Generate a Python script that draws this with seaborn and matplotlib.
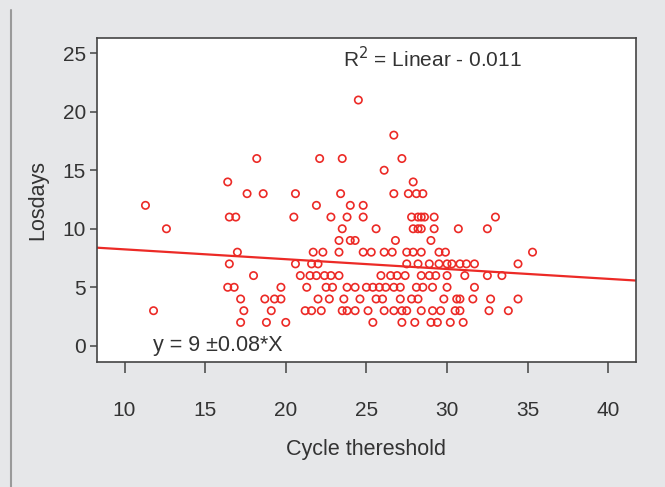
import numpy as np
import pandas as pd
import matplotlib.pyplot as plt
import seaborn as sns

# Data, one row per Losdays value
cycle_threshold = [
    24.5,
    26.7,
    18.2, 22.1, 23.5, 27.2,
    26.1,
    16.4, 27.9,
    17.6, 18.6, 20.6, 23.4, 26.7, 27.6, 28.1, 28.5,
    11.3, 21.9, 24.0, 24.8,
    16.5, 16.9, 20.5, 22.8, 23.8, 24.8, 27.8, 28.2, 28.4, 28.6, 29.2, 33.0,
    12.6, 23.5, 25.6, 27.9, 28.2, 28.4, 29.2, 30.7, 32.5,
    23.3, 24.0, 24.3, 26.8, 29.0,
    17.0, 21.7, 22.3, 23.3, 24.8, 25.3, 26.1, 26.6, 27.5, 27.9, 28.4, 29.5, 29.9, 35.3,
    16.5, 20.6, 21.6, 22.0, 27.5, 28.2, 28.9, 29.5, 30.0, 30.3, 30.8, 31.2, 31.7, 34.4,
    18.0, 20.9, 21.5, 21.9, 22.4, 22.8, 23.3, 25.9, 26.5, 26.9, 27.4, 28.4, 28.9, 29.3,
    30.0, 31.1, 32.5, 33.4,
    16.4, 16.8, 19.7, 21.3, 22.5, 22.9, 23.8, 24.3, 25.0, 25.4, 25.8, 26.2, 26.7, 27.1,
    28.1, 28.5, 29.1, 30.0, 31.7,
    17.2, 18.7, 19.3, 19.7, 22.0, 22.7, 23.6, 24.6, 25.6, 26.0, 27.1, 27.8, 28.2, 29.8,
    30.6, 30.8, 31.6, 32.7, 34.4,
    11.8, 17.4, 19.1, 21.2, 21.6, 22.2, 23.5, 23.8, 24.3, 25.1, 26.1, 26.7, 27.2, 27.5,
    28.4, 29.1, 29.6, 30.5, 30.8, 32.6, 33.8,
    17.2, 18.8, 20.0, 25.4, 27.2, 28.0, 29.0, 29.4, 30.2, 31.0,
]
losdays = [
    21,
    18,
    16, 16, 16, 16,
    15,
    14, 14,
    13, 13, 13, 13, 13, 13, 13, 13,
    12, 12, 12, 12,
    11, 11, 11, 11, 11, 11, 11, 11, 11, 11, 11, 11,
    10, 10, 10, 10, 10, 10, 10, 10, 10,
    9, 9, 9, 9, 9,
    8, 8, 8, 8, 8, 8, 8, 8, 8, 8, 8, 8, 8, 8,
    7, 7, 7, 7, 7, 7, 7, 7, 7, 7, 7, 7, 7, 7,
    6, 6, 6, 6, 6, 6, 6, 6, 6, 6, 6, 6, 6, 6,
    6, 6, 6, 6,
    5, 5, 5, 5, 5, 5, 5, 5, 5, 5, 5, 5, 5, 5,
    5, 5, 5, 5, 5,
    4, 4, 4, 4, 4, 4, 4, 4, 4, 4, 4, 4, 4, 4,
    4, 4, 4, 4, 4,
    3, 3, 3, 3, 3, 3, 3, 3, 3, 3, 3, 3, 3, 3,
    3, 3, 3, 3, 3, 3, 3,
    2, 2, 2, 2, 2, 2, 2, 2, 2, 2,
]

# Fit line as printed on the chart
fit_intercept = 9.08
fit_slope = -0.084

x_ticks = [10, 15, 20, 25, 30, 35, 40]
y_ticks = [0, 5, 10, 15, 20, 25]

data = pd.DataFrame({"Cycle thereshold": cycle_threshold, "Losdays": losdays})

sns.set_theme(style="ticks")
plt.rcParams['font.family'] = ['Liberation Sans', 'DejaVu Sans']

red = '#ec2a26'
bg = '#e6e7e9'
txt = '#333333'

fig = plt.figure(figsize=(6.65, 4.87), dpi=100, facecolor=bg)
ax = fig.add_axes([0.146, 0.257, 0.81, 0.665])
ax.set_facecolor('white')

sns.scatterplot(data=data, x="Cycle thereshold", y="Losdays", ax=ax,
                s=28, facecolors='none', edgecolors=red, linewidth=1.2)
ax.axline((0, fit_intercept), slope=fit_slope, color=red, linewidth=1.6)

ax.set_xlim(8.3, 41.7)
ax.set_ylim(-1.37, 26.3)
ax.set_xticks(x_ticks)
ax.set_yticks(y_ticks)
for s in ax.spines.values():
    s.set_color('#444444')
    s.set_linewidth(1.2)
ax.tick_params(axis='both', width=1.1, color='#444444',
               labelsize=15, labelcolor=txt)
ax.tick_params(axis='x', length=8, pad=20)
ax.tick_params(axis='y', length=5, pad=3)
ax.set_xlabel("Cycle thereshold", fontsize=15.5, color=txt, labelpad=14)
ax.set_ylabel("Losdays", fontsize=15.5, color=txt, labelpad=10)

ax.text(0.456, 0.935, "R$^2$ = Linear - 0.011", transform=ax.transAxes,
        fontsize=15, color=txt, va='center', ha='left')
ax.text(0.104, 0.052, "y = 9 \u00b10.08*X", transform=ax.transAxes,
        fontsize=15.5, color=txt, va='center', ha='left')

# outer frame line of the figure panel
fig.add_artist(plt.Line2D([0.016, 0.016], [0.0, 0.98], transform=fig.transFigure,
                          color='#9a9a9a', linewidth=1.5))

fig.savefig("out.png", dpi=100, facecolor=bg)
